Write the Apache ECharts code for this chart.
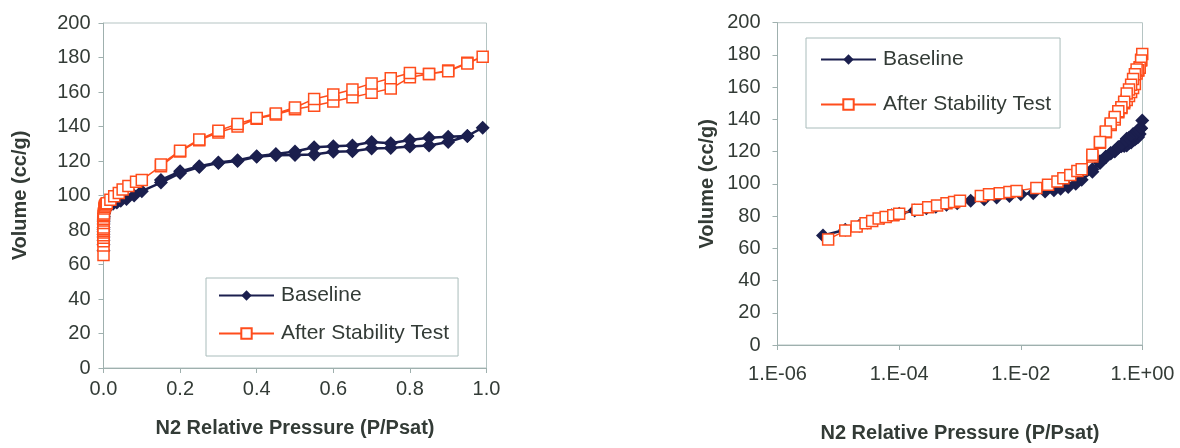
<!DOCTYPE html>
<html>
<head>
<meta charset="utf-8">
<script src="https://cdn.jsdelivr.net/npm/echarts@6/dist/echarts.min.js"></script>
<style>
html,body{margin:0;padding:0;background:#fff;}
#chart{width:1180px;height:448px;}
</style>
</head>
<body>
<div id="chart"></div>
<script>
// Baseline: adsorption (increasing P/Psat) then desorption (decreasing)
var baselineP = [5.6e-6,1.3e-5,2.2e-5,3.0e-5,4.0e-5,5.5e-5,7.5e-5,1.0e-4,1.8e-4,2.8e-4,4.0e-4,6.0e-4,9.0e-4,1.5e-3,2.5e-3,4.0e-3,6.5e-3,1.0e-2,1.6e-2,2.5e-2,3.5e-2,4.5e-2,6.0e-2,8.0e-2,0.10,0.15,0.20,0.25,0.30,0.35,0.40,0.45,0.50,0.55,0.60,0.65,0.70,0.75,0.80,0.85,0.90,0.95,0.99,0.95,0.90,0.85,0.80,0.75,0.70,0.65,0.60,0.55,0.50,0.45,0.40,0.35,0.30,0.25,0.20,0.15];
var baselineV = [68,71.5,74,76,77.5,79,80.5,81.5,83.5,84.8,85.8,87,88,89.5,90.5,91.5,92.5,93.5,94.2,95.2,96,97,98,100,102.5,107.5,113,116.5,118.8,120,122.4,123.4,123.5,123.8,125.4,125.6,127.2,127.5,128.4,129,131,134.5,139.3,134.5,134,133.5,132.2,130.3,131,129,128.6,128,125.5,124,122.8,120.5,119.2,117,114,109];
// After Stability Test
var afterP = [6.8e-6,1.3e-5,2.0e-5,2.8e-5,3.6e-5,4.6e-5,6.0e-5,8.0e-5,1.0e-4,2.0e-4,3.0e-4,4.2e-4,6.0e-4,8.0e-4,1.0e-3,2.2e-3,3.0e-3,4.5e-3,6.5e-3,8.5e-3,1.8e-2,2.8e-2,4.0e-2,5.0e-2,6.5e-2,8.5e-2,0.10,0.15,0.20,0.25,0.30,0.35,0.40,0.45,0.50,0.55,0.60,0.65,0.70,0.75,0.80,0.85,0.90,0.95,0.99,0.95,0.90,0.85,0.80,0.75,0.70,0.65,0.60,0.55,0.50,0.45,0.40,0.35,0.30,0.25,0.20,0.15];
var afterV = [65.5,71,73.5,75.5,77,78.5,79.5,80.5,81.5,84,85.5,86.5,88,88.8,89.5,92.5,93.5,94.2,95,95.5,97.5,99.5,101.5,103.5,105.5,108,109,117,125.5,132,136.5,140,144.5,147,150,152,154.5,157,159.5,162,168.5,170.4,172.4,177,180.5,176.5,172,170.5,171,168,165,161.5,158.5,156,151,147.5,145,141.5,137.5,132.5,126,118];

var seriesNames = ['Baseline','After Stability Test'];
var linearTickLabels = ['0.0','0.2','0.4','0.6','0.8','1.0'];
var logTickLabels = {'-6':'1.E-06','-4':'1.E-04','-2':'1.E-02','0':'1.E+00'};
var xTitle = 'N2 Relative Pressure (P/Psat)';
var yTitle = 'Volume (cc/g)';

function pairs(p, v){ return p.map(function(x,i){ return [x, v[i]]; }); }
var baseData = pairs(baselineP, baselineV);
var afterData = pairs(afterP, afterV);

var FONT = 'Liberation Sans, Arial, sans-serif';
var TXT = '#333b36';
var AXC = '#9fb0ae';
var NAVY = '#1b1f4e';
var ORANGE = '#ff4d1c';

var chart = echarts.init(document.getElementById('chart'), null, {renderer:'canvas'});

function yAxis(gridIndex, labelMargin, nameGap){
  return {
    type:'value', gridIndex:gridIndex, min:0, max:200, interval:20,
    name:yTitle, nameLocation:'middle', nameRotate:90, nameGap:nameGap,
    nameTextStyle:{fontFamily:FONT, fontSize:20, fontWeight:'bold', color:TXT},
    axisLine:{show:true, lineStyle:{color:AXC, width:1}},
    axisTick:{show:true, inside:false, length:5, lineStyle:{color:AXC}},
    axisLabel:{fontFamily:FONT, fontSize:20, color:TXT, margin:labelMargin},
    splitLine:{show:false}
  };
}

function legend(left, top, padding, gap){
  return {
    orient:'vertical', left:left, top:top, data:seriesNames,
    backgroundColor:'#fff', borderColor:'#a9bcbb', borderWidth:1,
    padding:padding, itemGap:gap, itemWidth:55, itemHeight:13,
    textStyle:{fontFamily:FONT, fontSize:21, color:TXT, padding:[0,0,0,2]},
    selectedMode:false
  };
}

var option = {
  backgroundColor:'#ffffff',
  animation:false,
  grid:[
    {left:103.5, top:23, width:383, height:345, show:true, borderColor:'#b5c4c3', borderWidth:1, backgroundColor:'transparent'},
    {left:777.5, top:22.7, width:365, height:327.3, show:true, borderColor:'#b5c4c3', borderWidth:1, backgroundColor:'transparent'}
  ],
  legend:[
    legend(206, 278, [7, 9, 12, 12], 17),
    legend(806, 38, [11, 9, 13, 14], 24)
  ],
  xAxis:[
    {
      type:'value', gridIndex:0, min:0, max:1, interval:0.2,
      name:xTitle, nameLocation:'middle', nameGap:50,
      nameTextStyle:{fontFamily:FONT, fontSize:20, fontWeight:'bold', color:TXT},
      axisLine:{show:true, onZero:false, lineStyle:{color:AXC}},
      axisTick:{show:true, inside:false, length:5, lineStyle:{color:AXC}},
      axisLabel:{fontFamily:FONT, fontSize:20, color:TXT, margin:11,
        formatter:function(v){ return linearTickLabels[Math.round(v/0.2)]; }},
      splitLine:{show:false}
    },
    {
      type:'log', logBase:10, gridIndex:1, min:1e-6, max:1, interval:2,
      name:xTitle, nameLocation:'middle', nameGap:78,
      nameTextStyle:{fontFamily:FONT, fontSize:20, fontWeight:'bold', color:TXT},
      axisLine:{show:true, onZero:false, lineStyle:{color:AXC}},
      axisTick:{show:true, inside:false, length:5, lineStyle:{color:AXC}},
      axisLabel:{fontFamily:FONT, fontSize:20, color:TXT, margin:19,
        formatter:function(v){ var e = Math.round(Math.log10(v)); return logTickLabels[String(e)] || ''; }},
      splitLine:{show:false}, minorTick:{show:false}
    }
  ],
  yAxis:[ yAxis(0, 13, 73), yAxis(1, 17, 60) ],
  series:[
    {name:seriesNames[0], type:'line', xAxisIndex:0, yAxisIndex:0, data:baseData,
     symbol:'diamond', symbolSize:14, lineStyle:{color:NAVY, width:2.5}, itemStyle:{color:NAVY}},
    {name:seriesNames[1], type:'line', xAxisIndex:0, yAxisIndex:0, data:afterData,
     symbol:'rect', symbolSize:11, lineStyle:{color:ORANGE, width:1.5},
     itemStyle:{color:'#ffffff', borderColor:ORANGE, borderWidth:1.5}},
    {name:seriesNames[0], type:'line', xAxisIndex:1, yAxisIndex:1, data:baseData,
     symbol:'diamond', symbolSize:14, lineStyle:{color:NAVY, width:2.5}, itemStyle:{color:NAVY}},
    {name:seriesNames[1], type:'line', xAxisIndex:1, yAxisIndex:1, data:afterData,
     symbol:'rect', symbolSize:11, lineStyle:{color:ORANGE, width:1.5},
     itemStyle:{color:'#ffffff', borderColor:ORANGE, borderWidth:1.5}}
  ]
};
chart.setOption(option);
</script>
</body>
</html>
